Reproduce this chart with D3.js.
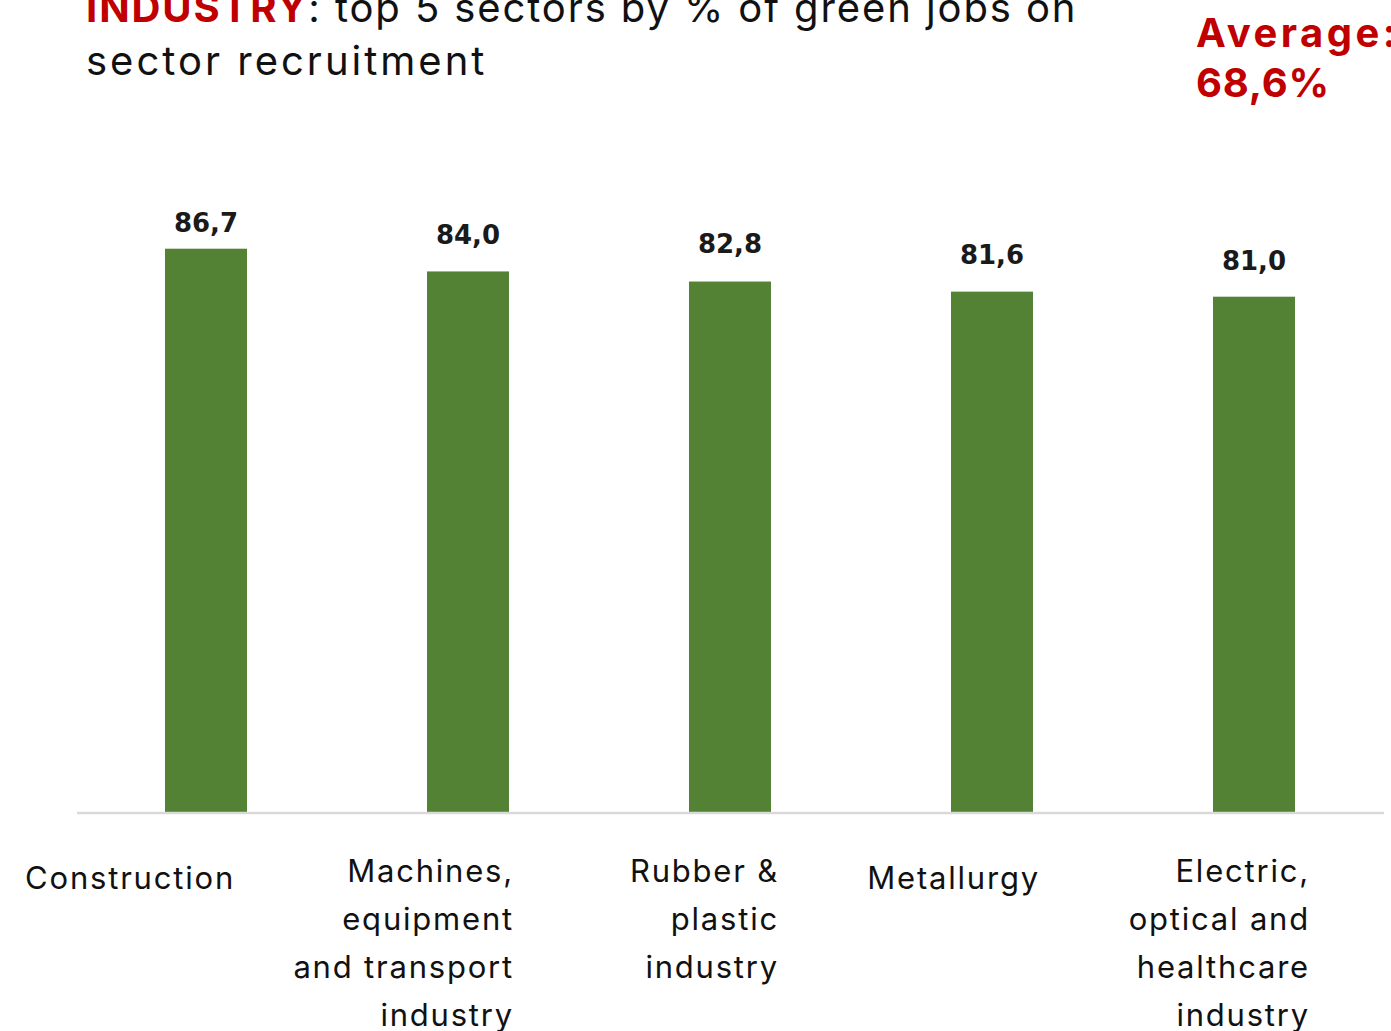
<!DOCTYPE html>
<html>
<head>
<meta charset="utf-8">
<script src="https://cdn.jsdelivr.net/npm/d3@7"></script>
<style>
  html, body { margin: 0; padding: 0; background: #fff; overflow: hidden; }
  svg { display: block; }
</style>
</head>
<body>
<svg id="chart" width="1391" height="1031"></svg>
<script>
// ---- data ----
const categories = [
  ["Construction"],
  ["Machines,", "equipment", "and transport", "industry"],
  ["Rubber &", "plastic", "industry"],
  ["Metallurgy"],
  ["Electric,", "optical and", "healthcare", "industry"]
];
const values = [86.7, 84.0, 82.8, 81.6, 81.0];
const valueLabels = ["86,7", "84,0", "82,8", "81,6", "81,0"];
const titleBold = "INDUSTRY";
const titleRest = ": top 5 sectors by % of green jobs on";
const titleLine2 = "sector recruitment";
const averageLines = ["Average:", "68,6%"];

// ---- layout ----
const baseY = 812;
const svg = d3.select("#chart");
const mainFont = "Inter, 'Open Sans', sans-serif";
const red = "#c00000";
const green = "#548235";

const keys = categories.map((c, i) => i);
const x = d3.scaleBand().domain(keys).range([75, 1385]).padding(0);
const y = d3.scaleLinear().domain([19.8, 100]).range([baseY, baseY - 8.42 * 80.2]);
const barW = x.bandwidth() * 0.313;

// bars
svg.append("g").selectAll("rect").data(values).join("rect")
  .attr("x", (d, i) => x(i) + x.bandwidth() / 2 - barW / 2)
  .attr("y", d => y(d))
  .attr("width", barW)
  .attr("height", d => y.range()[0] - y(d))
  .attr("fill", green);

// axis line
const xAxis = d3.axisBottom(x).tickSize(0).tickFormat("");
const axisG = svg.append("g").attr("transform", `translate(0,${baseY + 1})`).call(xAxis);
axisG.select(".domain").attr("d", "M77,0H1384").attr("stroke", "#d9d9d9").attr("stroke-width", 2.5);

// value labels
const labelGap = [17, 27, 29, 28, 27];
svg.append("g").selectAll("text").data(values).join("text")
  .attr("x", (d, i) => x(i) + x.bandwidth() / 2)
  .attr("y", (d, i) => y(d) - labelGap[i])
  .attr("text-anchor", "middle")
  .attr("font-family", "'DejaVu Sans', sans-serif")
  .attr("font-weight", "bold")
  .attr("font-size", 26)
  .attr("fill", "#1a1a1a")
  .text((d, i) => valueLabels[i]);

// category labels (right-aligned text boxes)
const labelRightOffset = [29, 46, 49, 48, 56];
const catG = svg.append("g");
categories.forEach((lines, i) => {
  const t = catG.append("text")
    .attr("text-anchor", "end")
    .attr("font-family", mainFont)
    .attr("font-size", 31)
    .attr("letter-spacing", 1.8)
    .attr("fill", "#111");
  const cx = x(i) + x.bandwidth() / 2 + labelRightOffset[i];
  const firstY = lines.length === 1 ? 889 : 882;
  lines.forEach((ln, j) => {
    t.append("tspan").attr("x", cx).attr("y", firstY + j * 48).text(ln);
  });
});

// title
const title = svg.append("text")
  .attr("x", 86).attr("y", 22)
  .attr("font-family", mainFont)
  .attr("font-size", 40)
  .attr("letter-spacing", 1.9)
  .attr("fill", "#111");
title.append("tspan").attr("fill", red).attr("font-weight", "bold").text(titleBold);
title.append("tspan").text(titleRest);
svg.append("text")
  .attr("x", 86).attr("y", 75)
  .attr("font-family", mainFont)
  .attr("font-size", 40)
  .attr("letter-spacing", 3)
  .attr("fill", "#111")
  .text(titleLine2);

// average annotation
const avgSpacing = [3.5, 0.8];
svg.append("g").selectAll("text").data(averageLines).join("text")
  .attr("x", 1196)
  .attr("y", (d, i) => 47 + i * 50)
  .attr("font-family", mainFont)
  .attr("font-weight", "bold")
  .attr("font-size", 40)
  .attr("letter-spacing", (d, i) => avgSpacing[i])
  .attr("fill", red)
  .text(d => d);
</script>
</body>
</html>
